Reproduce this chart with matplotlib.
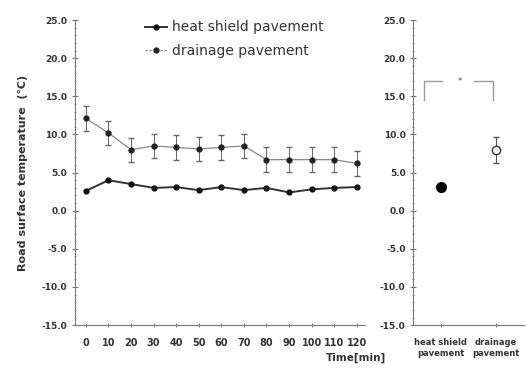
import matplotlib
matplotlib.use('Agg')
import matplotlib.pyplot as plt
from matplotlib.ticker import MultipleLocator, FormatStrFormatter
from matplotlib.lines import Line2D

# time course (left panel)
time_min = [0, 10, 20, 30, 40, 50, 60, 70, 80, 90, 100, 110, 120]
heat_shield = [2.6, 4.0, 3.5, 3.0, 3.1, 2.7, 3.1, 2.7, 3.0, 2.4, 2.8, 3.0, 3.1]
drainage = [12.1, 10.2, 8.0, 8.5, 8.3, 8.1, 8.3, 8.5, 6.7, 6.7, 6.7, 6.7, 6.2]
drainage_err = [1.6, 1.6, 1.6, 1.6, 1.6, 1.6, 1.6, 1.6, 1.6, 1.6, 1.6, 1.6, 1.6]

# mean values (right panel)
groups = ['heat shield\npavement', 'drainage\npavement']
group_mean = [3.1, 8.0]
group_err = [0.0, 1.7]
bracket_top = 17.0
bracket_low = 14.5

fig = plt.figure(figsize=(5.27, 3.72), dpi=100)
ax = fig.add_axes([0.142, 0.126, 0.550, 0.820])
ax2 = fig.add_axes([0.784, 0.126, 0.210, 0.820])

ax.errorbar(time_min, drainage, yerr=drainage_err, color='#888888', lw=0.9,
            marker='o', ms=3.5, mfc='#222222', mec='#222222', capsize=2,
            ecolor='#666666', elinewidth=0.7)
ax.plot(time_min, heat_shield, color='#333333', lw=1.4,
        marker='o', ms=3.5, mfc='#111111', mec='#111111')

handles = [Line2D([], [], color='#333333', lw=1.4, marker='o', ms=3.5,
                  mfc='#111111', mec='#111111'),
           Line2D([], [], color='#888888', lw=0.9, ls=(0, (2, 1)), marker='o',
                  ms=3.5, mfc='#222222', mec='#222222')]
ax.legend(handles, ['heat shield pavement', 'drainage pavement'],
          loc='upper center', bbox_to_anchor=(0.55, 1.04),
          frameon=False, fontsize=10, handlelength=1.6, handletextpad=0.3,
          labelspacing=0.7, labelcolor='#333333')

ax.set_xlim(-4.9, 123.5)
ax.set_ylim(-15, 25)
ax.set_xticks(time_min)
ax.yaxis.set_major_locator(MultipleLocator(5))
ax.yaxis.set_minor_locator(MultipleLocator(1))
ax.set_ylabel('Road surface temperature  (℃)', fontsize=8, fontweight='bold',
              color='#333333', labelpad=10)
ax.set_xlabel('Time[min]', fontsize=7.5, fontweight='bold', color='#333333')
ax.xaxis.set_label_coords(0.97, -0.09)

# right panel
ax2.errorbar([0], group_mean[:1], yerr=[group_err[0]], fmt='o', ms=7,
             mfc='black', mec='black')
ax2.errorbar([1], group_mean[1:], yerr=[group_err[1]], fmt='o', ms=6,
             mfc='white', mec='#333333', ecolor='#555555', elinewidth=0.8,
             capsize=2)
ax2.plot([-0.3, -0.3, 0.03], [bracket_low, bracket_top, bracket_top],
         color='#999999', lw=1)
ax2.plot([0.6, 0.95, 0.95], [bracket_top, bracket_top, bracket_low],
         color='#999999', lw=1)
ax2.text(0.35, bracket_top, '*', ha='center', va='center', fontsize=6,
         color='#555555')
ax2.set_xlim(-0.5, 1.5)
ax2.set_ylim(-15, 25)
ax2.set_xticks([0, 1])
ax2.set_xticklabels(groups, fontsize=6, fontweight='bold', color='#333333')
ax2.yaxis.set_major_locator(MultipleLocator(5))
ax2.yaxis.set_minor_locator(MultipleLocator(1))

for a in (ax, ax2):
    for s in ('top', 'right'):
        a.spines[s].set_visible(False)
    for s in ('left', 'bottom'):
        a.spines[s].set_color('#777777')
    a.yaxis.set_major_formatter(FormatStrFormatter('%.1f'))
    a.tick_params(axis='both', which='both', direction='inout', colors='#777777',
                  labelcolor='#333333')
    a.tick_params(axis='y', which='major', length=4, labelsize=6.5)
    a.tick_params(axis='y', which='minor', length=2)
    a.tick_params(axis='x', which='major', length=3, pad=8)
    for t in a.get_yticklabels():
        t.set_fontweight('bold')
ax.tick_params(axis='x', labelsize=7)
for t in ax.get_xticklabels():
    t.set_fontweight('bold')
ax2.tick_params(axis='x', labelsize=6)

fig.savefig('out.png', dpi=100)
